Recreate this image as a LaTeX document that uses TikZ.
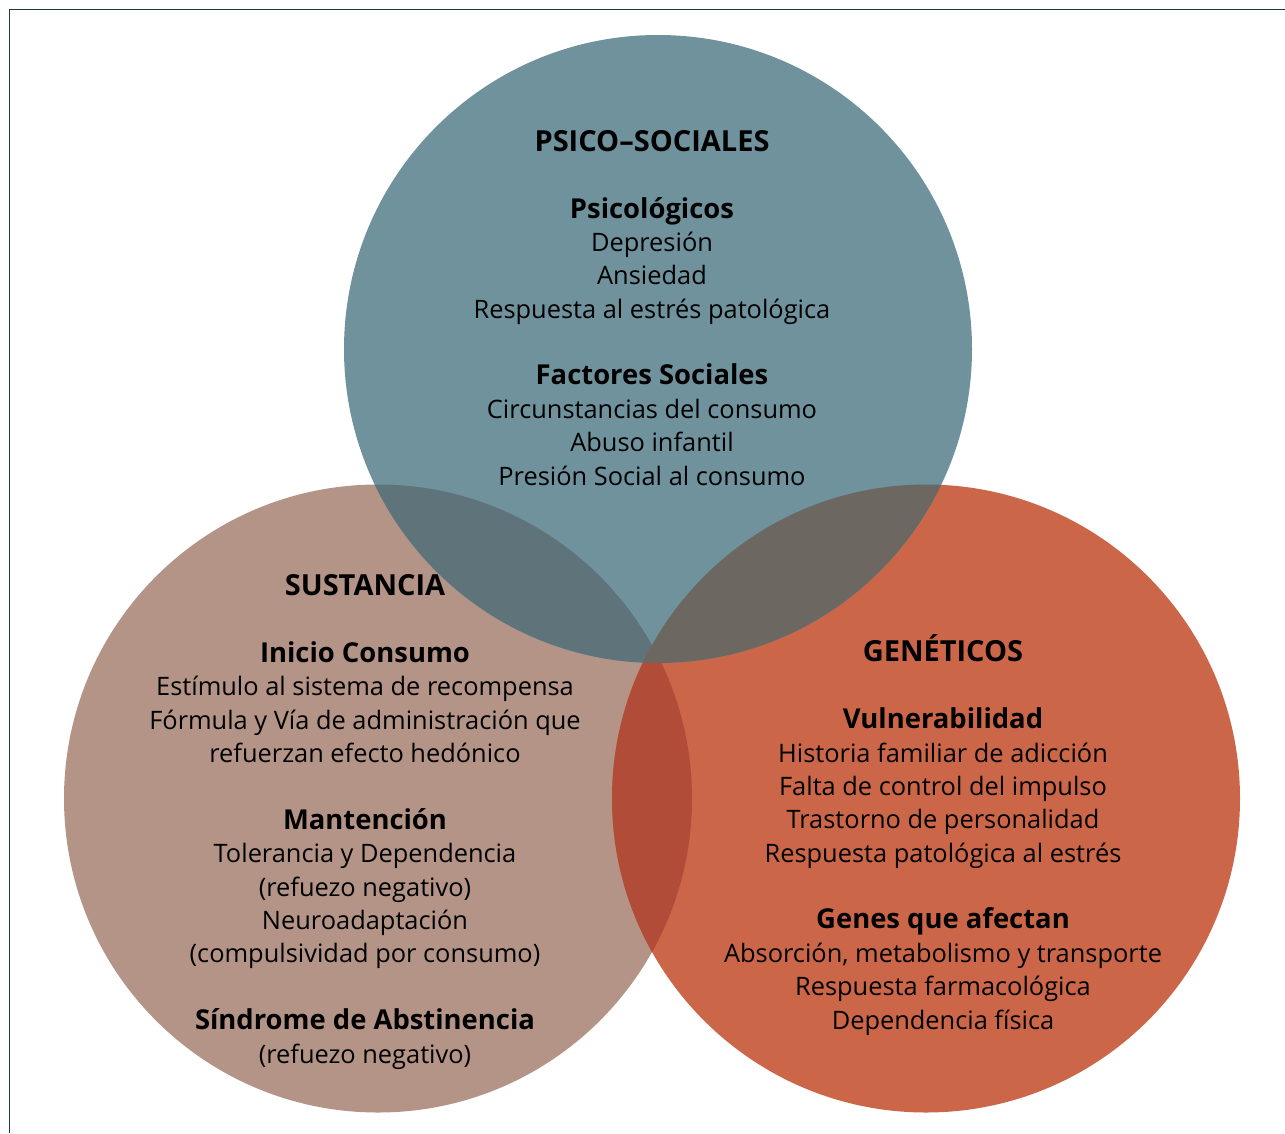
\documentclass[tikz,border=0pt]{standalone}
\usepackage{fontspec}
\setmainfont{Open Sans}

\definecolor{psicoblue}{HTML}{6F929C}
\definecolor{sustbrown}{HTML}{B39487}
\definecolor{genred}{HTML}{CB6649}
\definecolor{psicosust}{HTML}{5F737A}
\definecolor{psicogen}{HTML}{6C6760}
\definecolor{sustgen}{HTML}{B04C37}
\definecolor{framecol}{HTML}{1E3845}

\newcommand{\head}[1]{{\fontsize{16.5}{19}\selectfont\bfseries #1}}
\newcommand{\sub}[1]{{\fontsize{15.6}{19}\selectfont\bfseries #1}}

\tikzset{
  block/.style={align=center, font=\fontsize{14.45}{19}\selectfont, text=black, inner sep=0pt},
}

\begin{document}
\begin{tikzpicture}[x=0.02cm, y=-0.02cm]
  \useasboundingbox (0,0) rectangle (1285,1133);
  % frame
  \draw[framecol, line width=0.8pt] (9.5,1133) -- (9.5,9.5) -- (1285,9.5);

  % circle centres
  \coordinate (cpsico) at (658,349);
  \coordinate (csust) at (378,798.5);
  \coordinate (cgen) at (926,798.5);

  \fill[sustbrown] (csust) circle[radius=314];
  \fill[genred] (cgen) circle[radius=314];
  \fill[psicoblue] (cpsico) circle[radius=314];

  % overlaps
  \begin{scope}
    \clip (csust) circle[radius=314];
    \fill[psicosust] (cpsico) circle[radius=314];
    \fill[sustgen] (cgen) circle[radius=314];
  \end{scope}
  \begin{scope}
    \clip (cgen) circle[radius=314];
    \fill[psicogen] (cpsico) circle[radius=314];
  \end{scope}

  % texts
  \node[block] (psico) at (652,307.8) {%
    \head{PSICO--SOCIALES}\\[19pt]
    \sub{Psicológicos}\\
    Depresión\\
    Ansiedad\\
    Respuesta al estrés patológica\\[19pt]
    \sub{Factores Sociales}\\
    Circunstancias del consumo\\
    Abuso infantil\\
    Presión Social al consumo};

  \node[block] (sust) at (365,822) {%
    \head{SUSTANCIA}\\[19pt]
    \sub{Inicio Consumo}\\
    Estímulo al sistema de recompensa\\
    Fórmula y Vía de administración que\\
    refuerzan efecto hedónico\\[19pt]
    \sub{Mantención}\\
    Tolerancia y Dependencia\\
    (refuezo negativo)\\
    Neuroadaptación\\
    (compulsividad por consumo)\\[19pt]
    \sub{Síndrome de Abstinencia}\\
    (refuezo negativo)};

  \node[block] (genet) at (943,835) {%
    \head{GENÉTICOS}\\[19pt]
    \sub{Vulnerabilidad}\\
    Historia familiar de adicción\\
    Falta de control del impulso\\
    Trastorno de personalidad\\
    Respuesta patológica al estrés\\[19pt]
    \sub{Genes que afectan}\\
    Absorción, metabolismo y transporte\\
    Respuesta farmacológica\\
    Dependencia física};
\end{tikzpicture}
\end{document}
